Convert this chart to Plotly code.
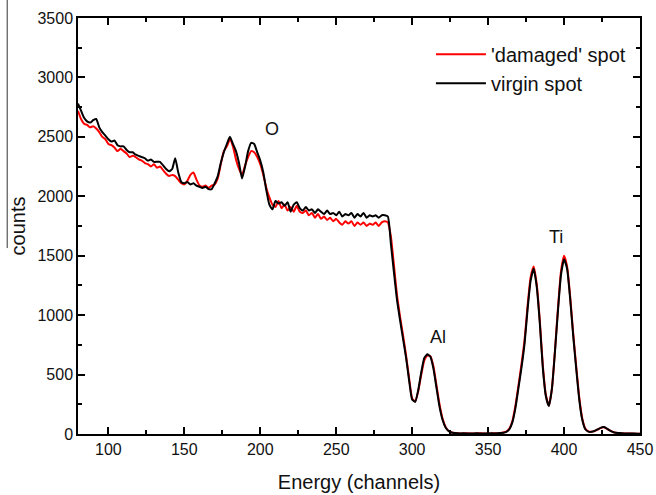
import plotly.graph_objects as go

channels = list(range(80, 451, 2))

virgin = [
    2780, 2720, 2660, 2630, 2620, 2640, 2650, 2580, 2540, 2510,
    2480, 2460, 2470, 2430, 2420, 2420, 2390, 2370, 2370, 2350,
    2340, 2330, 2320, 2300, 2310, 2290, 2290, 2290, 2260, 2230,
    2210, 2230, 2320, 2200, 2120, 2110, 2120, 2100, 2110, 2090,
    2080, 2070, 2080, 2060, 2060, 2110, 2170, 2280, 2370, 2440,
    2500, 2440, 2380, 2280, 2150, 2250, 2380, 2450, 2440, 2370,
    2300, 2200, 2050, 1930,
    1890, 1960, 1940, 1950, 1920, 1950, 1870, 1930, 1950, 1900,
    1880, 1910, 1880, 1890, 1860, 1890, 1870, 1850, 1880, 1850,
    1860, 1840, 1870, 1830, 1850, 1840, 1860, 1820, 1850, 1830,
    1860, 1820, 1840, 1830, 1840, 1820, 1840, 1840, 1830,
    1600, 1360, 1130, 960, 800, 640, 450, 290, 270, 370,
    520, 640, 670, 650, 550, 390, 230, 120, 55, 25,
    12, 8, 6, 5, 6, 5, 4, 5, 6, 5,
    5, 4, 5, 6, 5, 6, 8, 10, 18, 40,
    100, 220, 390, 560, 760, 1050, 1290, 1390, 1240, 940,
    560, 320, 235, 380, 690, 1040, 1340, 1470, 1390, 1140,
    830, 550, 290, 120, 40, 20, 18, 25, 38, 52,
    58, 48, 30, 18, 10, 8, 6, 5, 5, 4,
    4, 3, 3,
]

damaged = [
    2720, 2650, 2610, 2600, 2580, 2590, 2570, 2540, 2500, 2480,
    2440, 2430, 2410, 2380, 2400, 2380, 2360, 2330, 2340, 2330,
    2310, 2300, 2280, 2270, 2250, 2270, 2240, 2250, 2220, 2190,
    2170, 2180, 2170, 2140, 2110, 2100, 2130, 2180, 2200, 2140,
    2090, 2080, 2090, 2070, 2090, 2100, 2150, 2270, 2380, 2420,
    2480, 2420, 2310, 2230, 2180, 2260, 2330, 2380, 2370, 2330,
    2270, 2180, 2070, 1990,
    1930, 1910, 1960, 1900, 1930, 1880, 1910, 1870, 1920, 1870,
    1860, 1880, 1840, 1860, 1820, 1850, 1810, 1830, 1800, 1820,
    1790, 1810, 1780, 1760, 1790, 1770, 1790, 1750, 1780, 1760,
    1780, 1750, 1770, 1760, 1780, 1750, 1780, 1790, 1780,
    1660, 1420, 1170, 990, 830, 660, 470, 300, 275, 360,
    500, 620, 660, 655, 570, 410, 250, 130, 60, 25,
    12, 8, 6, 5, 5, 6, 5, 4, 5, 6,
    5, 5, 4, 5, 6, 5, 8, 12, 20, 45,
    110, 240, 410, 590, 790, 1080, 1320, 1410, 1260, 960,
    580, 330, 240, 380, 700, 1060, 1370, 1500, 1410, 1160,
    850, 570, 310, 130, 45, 22, 18, 24, 36, 50,
    56, 46, 30, 18, 10, 8, 6, 5, 4, 4,
    3, 3, 3,
]

labels = ["O", "Al", "Ti"]
label_x = [208, 317, 395]
label_y = [2570, 820, 1660]

font = "Arial, Liberation Sans, sans-serif"

fig = go.Figure()
fig.add_trace(go.Scatter(x=channels, y=damaged, mode="lines", name="'damaged' spot",
                         line=dict(color="#ff0000", width=2, shape="spline", smoothing=0.5)))
fig.add_trace(go.Scatter(x=channels, y=virgin, mode="lines", name="virgin spot",
                         line=dict(color="#000000", width=2, shape="spline", smoothing=0.5)))

for t, x, y in zip(labels, label_x, label_y):
    fig.add_annotation(x=x, y=y, text=t, showarrow=False, font=dict(size=18, color="#111"))

# stray vertical line at the left edge of the reference image
fig.add_shape(type="line", xref="paper", yref="paper", x0=-0.126, x1=-0.126, y0=0.447, y1=1.05,
              line=dict(color="#333", width=1))

axis_common = dict(showline=True, linecolor="black", linewidth=1.5, mirror="ticks",
                   ticks="inside", ticklen=7, tickwidth=1.5, tickcolor="black",
                   showgrid=False, zeroline=False, automargin=False,
                   tickfont=dict(size=16, color="#111", family=font))

fig.update_xaxes(range=[80, 450], dtick=50, tick0=0,
                 minor=dict(ticks="inside", ticklen=4, dtick=25, tick0=0, tickcolor="black"),
                 title=dict(text="Energy (channels)", font=dict(size=20, color="#111", family=font), standoff=18),
                 **axis_common)
fig.update_yaxes(range=[0, 3500], dtick=500, tick0=0,
                 minor=dict(ticks="inside", ticklen=4, dtick=250, tick0=0, tickcolor="black"),
                 title=dict(text="counts", font=dict(size=20, color="#111", family=font), standoff=6),
                 **axis_common)

fig.update_layout(
    width=656, height=495,
    margin=dict(l=78, r=16, t=18, b=61, autoexpand=False),
    paper_bgcolor="white", plot_bgcolor="white",
    font=dict(family=font),
    legend=dict(x=0.628, y=0.96, xanchor="left", yanchor="top", bgcolor="rgba(0,0,0,0)",
                itemwidth=50,
                font=dict(size=20, color="#111", family=font), tracegroupgap=0),
    showlegend=True,
)

fig.write_html("out.html")
